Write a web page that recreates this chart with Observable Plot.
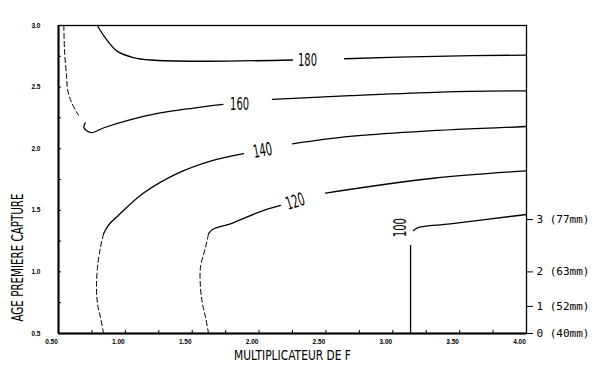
<!DOCTYPE html>
<html><head><meta charset="utf-8">
<script src="https://cdn.jsdelivr.net/npm/d3@7"></script>
<script src="https://cdn.jsdelivr.net/npm/@observablehq/plot@0.6"></script>
<style>body{margin:0;background:#fff;}</style>
</head><body><div id="chart"></div>
<script>
// Axis tick values
const xMajorTicks = [0.5, 1.0, 1.5, 2.0, 2.5, 3.0, 3.5, 4.0];
const xMinorTicks = [0.75, 1.0, 1.25, 1.5, 1.75, 2.0, 2.25, 2.5, 2.75, 3.0, 3.25, 3.5, 3.75];
const yMajorTicks = [0.5, 1.0, 1.5, 2.0, 2.5, 3.0];
const yMinorTicks = [0.75, 1.0, 1.25, 1.5, 1.75, 2.0, 2.25, 2.5, 2.75];
const rightTickValues = [0.5, 0.72, 1.0, 1.425];
const rightTickLabels = ["0 (40mm)", "1 (52mm)", "2 (63mm)", "3 (77mm)"];

// Isopleth 180
const iso180Ax = [0.79, 0.85, 0.94, 1.06, 1.19, 1.56, 2.25];
const iso180Ay = [3.0, 2.90, 2.79, 2.74, 2.72, 2.71, 2.72];
const iso180Bx = [2.64, 3.32, 4.0];
const iso180By = [2.73, 2.75, 2.76];
// Isopleth 160
const iso160Dx = [0.54, 0.545, 0.56, 0.57, 0.60, 0.65];
const iso160Dy = [3.0, 2.80, 2.59, 2.47, 2.37, 2.27];
const iso160Ax = [0.70, 0.69, 0.72, 0.75, 0.84, 1.02, 1.26, 1.51, 1.73];
const iso160Ay = [2.21, 2.17, 2.14, 2.13, 2.17, 2.23, 2.29, 2.33, 2.36];
const iso160Bx = [2.10, 2.68, 3.36, 4.0];
const iso160By = [2.40, 2.43, 2.46, 2.47];
// Isopleth 140
const iso140Dx = [0.837, 0.814, 0.792, 0.784, 0.792, 0.814, 0.837];
const iso140Dy = [0.5, 0.63, 0.74, 0.87, 1.04, 1.20, 1.31];
const iso140Ax = [0.837, 0.874, 0.949, 1.136, 1.39, 1.637, 1.884];
const iso140Ay = [1.31, 1.38, 1.46, 1.64, 1.80, 1.90, 1.96];
const iso140Bx = [2.25, 2.68, 3.21, 4.0];
const iso140By = [2.04, 2.10, 2.14, 2.18];
// Isopleth 120
const iso120Dx = [1.622, 1.60, 1.577, 1.562, 1.562, 1.60, 1.622];
const iso120Dy = [0.5, 0.63, 0.74, 0.87, 1.04, 1.20, 1.31];
const iso120Ax = [1.622, 1.66, 1.786, 2.01, 2.16];
const iso120Ay = [1.31, 1.35, 1.39, 1.49, 1.54];
const iso120Bx = [2.497, 3.305, 4.0];
const iso120By = [1.64, 1.76, 1.82];
// Isopleth 100
const iso100Ax = [3.133, 3.133];
const iso100Ay = [0.5, 1.214];
const iso100Bx = [3.155, 3.19, 3.43, 4.0];
const iso100By = [1.336, 1.36, 1.39, 1.466];

// Contour labels
const labelText = ["180", "160", "140", "120", "100"];
const labelX = [2.362, 1.854, 2.026, 2.27, 3.058];
const labelY = [2.716, 2.36, 1.985, 1.57, 1.36];
const labelAngle = [0, 0, -10, -18, -90];

const xTitle = "MULTIPLICATEUR DE F";
const yTitle = "AGE PREMIERE CAPTURE";

function seg(xs, ys, id) { return xs.map((x, i) => ({x, y: ys[i], seg: id})); }

const solidRows = [
  ...seg(iso180Ax, iso180Ay, "180a"), ...seg(iso180Bx, iso180By, "180b"),
  ...seg(iso160Ax, iso160Ay, "160a"), ...seg(iso160Bx, iso160By, "160b"),
  ...seg(iso140Ax, iso140Ay, "140a"), ...seg(iso140Bx, iso140By, "140b"),
  ...seg(iso120Ax, iso120Ay, "120a"), ...seg(iso120Bx, iso120By, "120b"),
  ...seg(iso100Ax, iso100Ay, "100a"), ...seg(iso100Bx, iso100By, "100b")
];
const dashedRows = [
  ...seg(iso160Dx, iso160Dy, "160d"),
  ...seg(iso140Dx, iso140Dy, "140d"),
  ...seg(iso120Dx, iso120Dy, "120d")
];
const labels = labelText.map((t, i) => ({text: t, x: labelX[i], y: labelY[i], r: labelAngle[i]}));
const rightMap = new Map(rightTickValues.map((v, i) => [v, rightTickLabels[i]]));

const tickFont = {fontSize: 6.5, fontWeight: "bold", fontFamily: "Liberation Sans, Arial, sans-serif"};

const chart = Plot.plot({
  width: 600, height: 371,
  marginLeft: 58, marginRight: 74, marginTop: 25, marginBottom: 38,
  x: {domain: [0.5, 4]},
  y: {domain: [0.5, 3]},
  style: {background: "white", color: "black"},
  marks: [
    Plot.tickX(xMinorTicks, {x: d => d, insetTop: 305, stroke: "black", strokeWidth: 1}),
    Plot.tickY(yMinorTicks, {y: d => d, insetRight: 465, stroke: "black", strokeWidth: 1}),
    Plot.axisX(xMajorTicks, {tickSize: 0, tickPadding: 6, dx: -7, tickFormat: d3.format(".2f"), label: null, ...tickFont}),
    Plot.axisY(yMajorTicks, {tickSize: 0, tickPadding: 18, tickFormat: d3.format(".1f"), label: null, ...tickFont}),
    Plot.axisY(rightTickValues, {anchor: "right", tickSize: 6, tickPadding: 4, tickFormat: d => rightMap.get(d), label: null,
      fontSize: 11, fontFamily: "DejaVu Sans Mono, Liberation Mono, monospace"}),
    Plot.frame({stroke: "black", strokeWidth: 1.3}),
    Plot.ruleX([0.5], {stroke: "black", strokeWidth: 2}),
    Plot.ruleY([0.5], {stroke: "black", strokeWidth: 2}),
    Plot.line(solidRows, {x: "x", y: "y", z: "seg", curve: "catmull-rom", stroke: "black", strokeWidth: 1.3}),
    Plot.line(dashedRows, {x: "x", y: "y", z: "seg", curve: "catmull-rom", stroke: "black", strokeWidth: 1, strokeDasharray: "5,3"}),
    Plot.text(labels, {x: "x", y: "y", text: "text", rotate: "r", fontSize: 18,
      fontFamily: "DejaVu Sans, sans-serif", fill: "black"}),
    Plot.text([xTitle], {frameAnchor: "bottom", dy: 22, lineAnchor: "middle", fontSize: 13.5,
      fontFamily: "DejaVu Sans, sans-serif", fill: "black"}),
    Plot.text([yTitle], {frameAnchor: "left", dx: -40, dy: 78, rotate: -90, textAnchor: "middle", lineAnchor: "middle",
      fontSize: 15, fontFamily: "DejaVu Sans, sans-serif", fill: "black"})
  ]
});
document.getElementById("chart").appendChild(chart);
const svg = d3.select(chart);
const fit = (txt, len) => svg.selectAll("text").filter(function() { return this.textContent === txt; })
  .attr("textLength", len).attr("lengthAdjust", "spacingAndGlyphs");
fit(xTitle, 117);
fit(yTitle, 128);
labelText.forEach(t => fit(t, 19));
</script>
</body></html>
